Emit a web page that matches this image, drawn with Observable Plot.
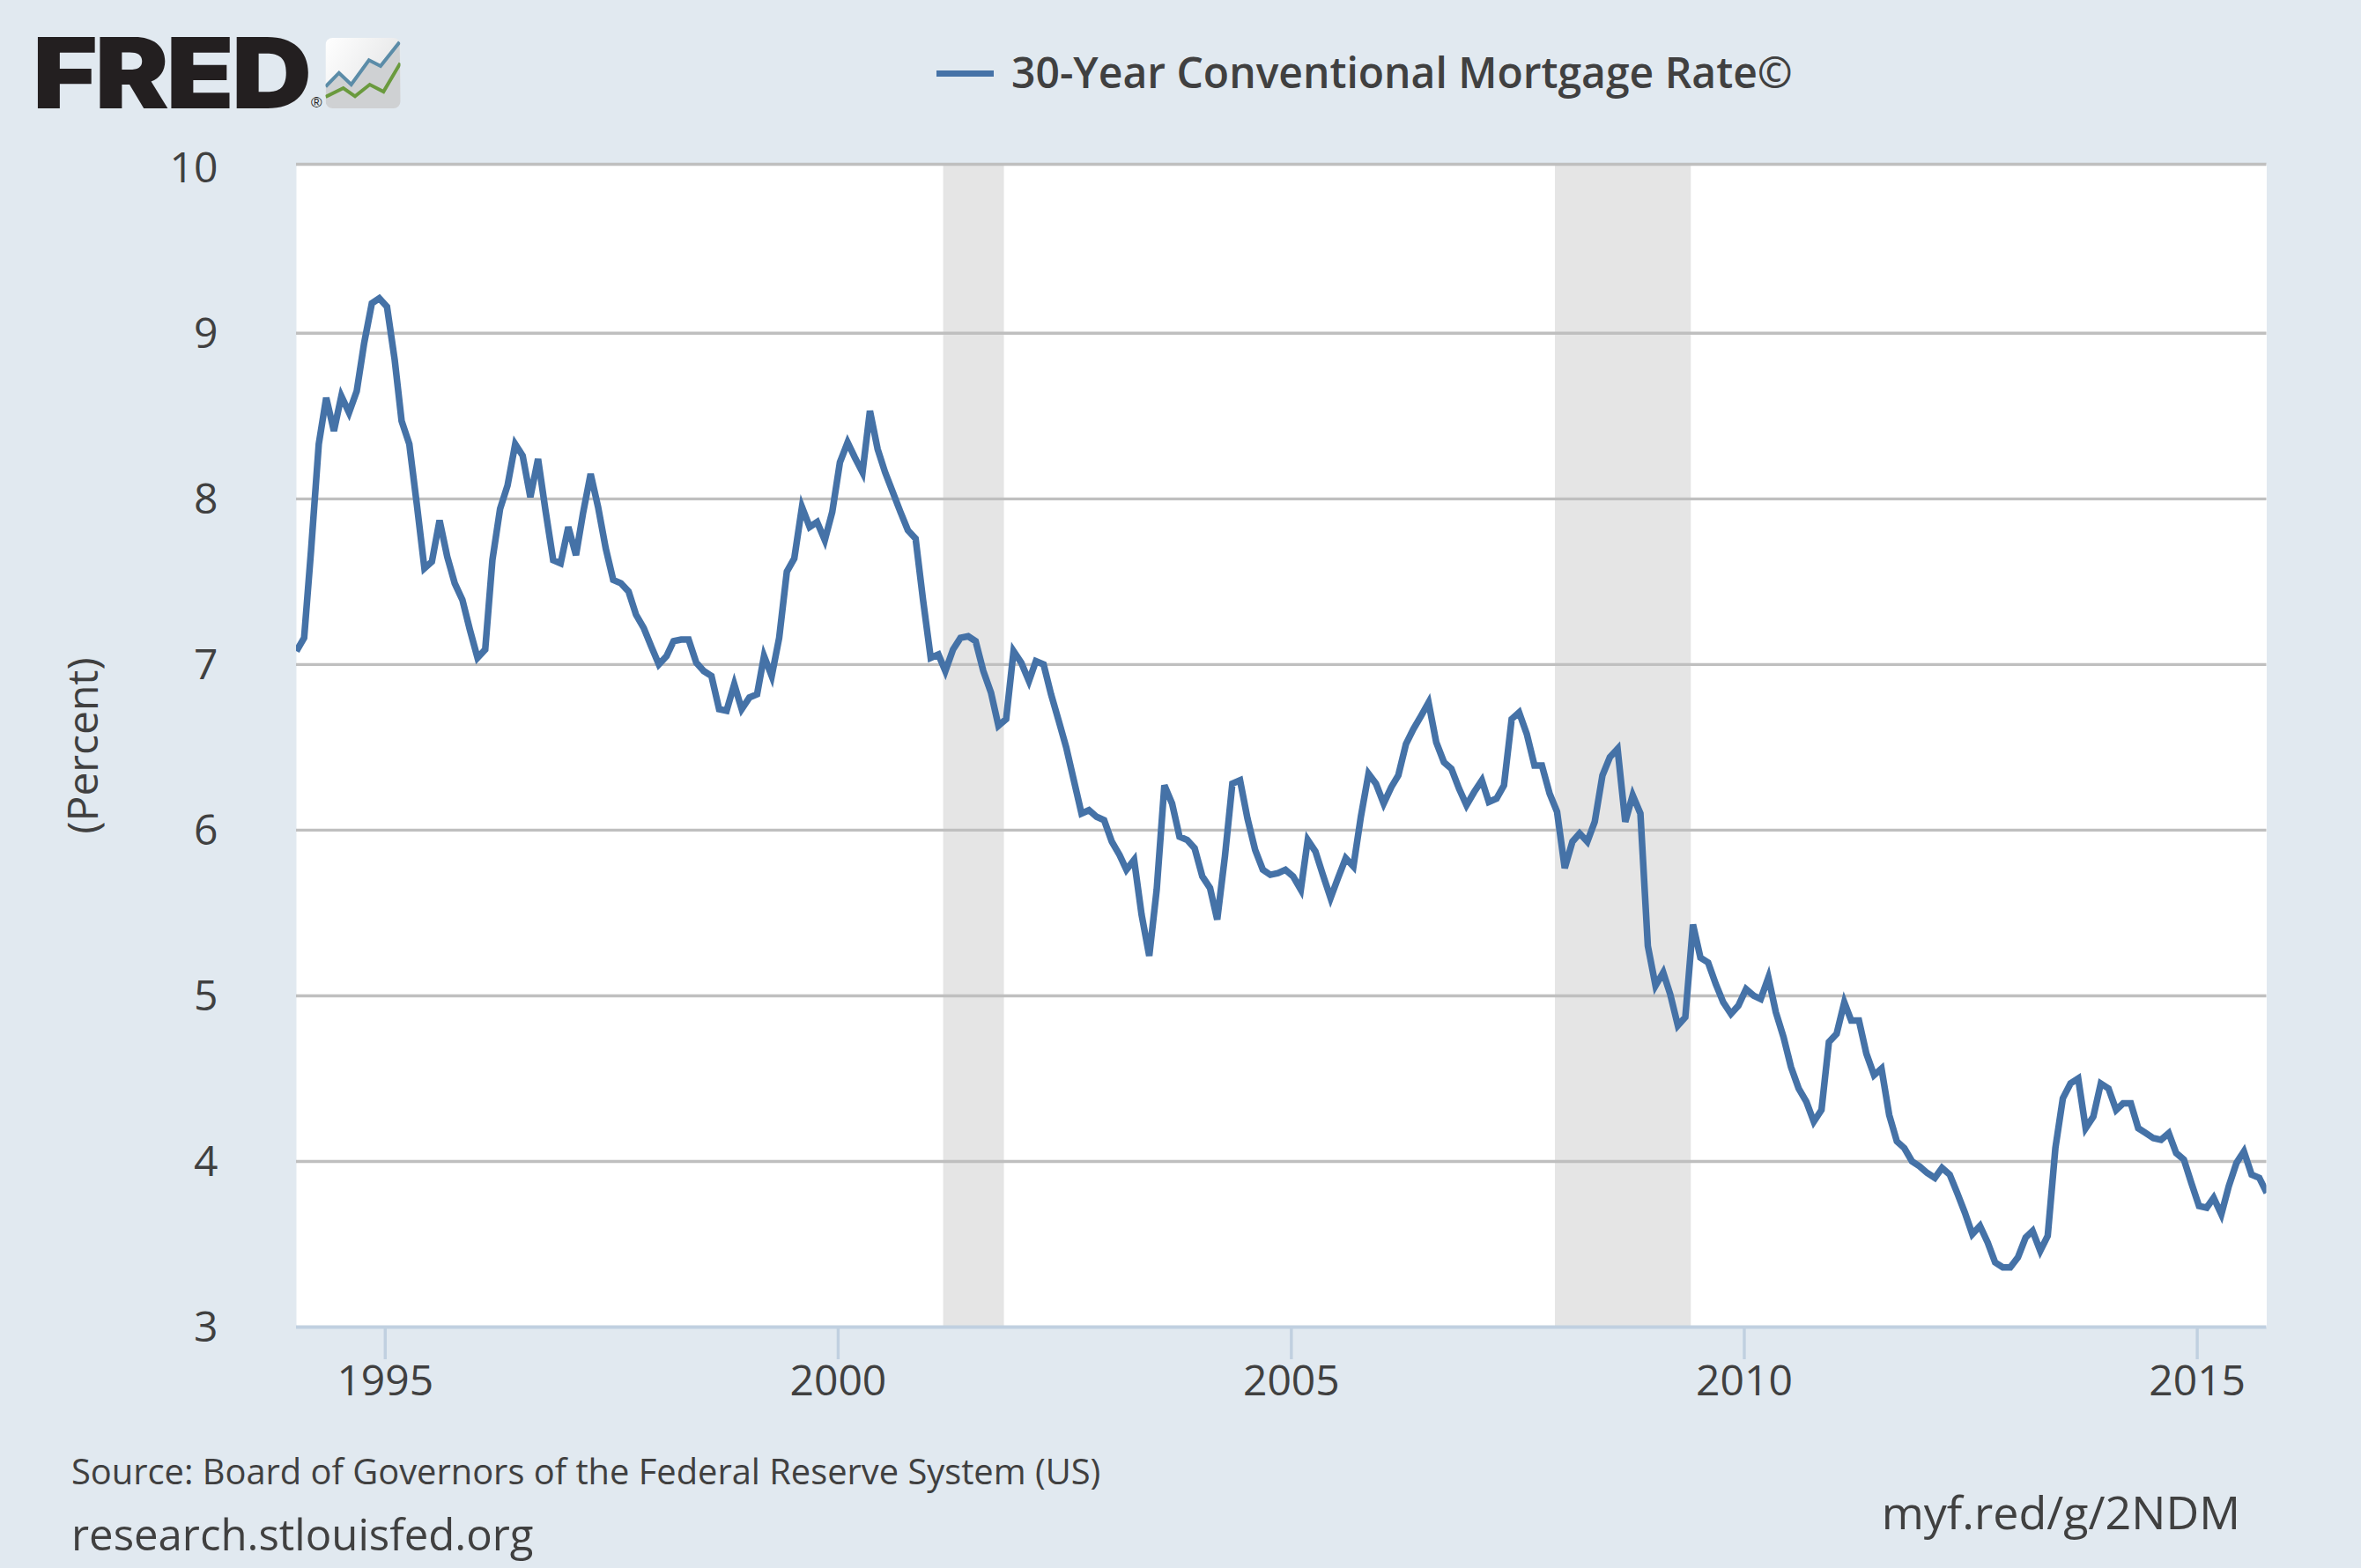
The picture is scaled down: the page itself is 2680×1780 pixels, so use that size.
<!DOCTYPE html>
<html>
<head>
<meta charset="utf-8">
<script src="https://cdn.jsdelivr.net/npm/d3@7"></script>
<script src="https://cdn.jsdelivr.net/npm/@observablehq/plot@0.6"></script>
<style>
  html, body { margin: 0; padding: 0; background: #e1e9f0; }
  #page { position: relative; width: 2680px; height: 1780px; overflow: hidden; background: #e1e9f0; font-family: "Open Sans", sans-serif; color: #404040; }
  #head { height: 140px; }
  #foot { height: 180px; }
  #chart svg { display: block; }
  .abs { position: absolute; white-space: nowrap; line-height: 1; }
</style>
</head>
<body>
<div id="page">
  <div id="head">
    <div class="abs" id="fred" style="left:37px;top:27px;font-family:Inter,sans-serif;font-weight:900;font-size:111px;letter-spacing:-3px;color:#231f20;transform:scaleX(1.14);transform-origin:left center;">FRED</div>
    <div class="abs" style="left:353px;top:108px;font-family:'Liberation Sans',sans-serif;font-size:17px;color:#231f20;">®</div>
    <svg class="abs" style="left:368px;top:43px" width="90" height="82" viewBox="0 0 90 82" aria-hidden="true">
      <defs>
        <linearGradient id="sheen" x1="0" x2="1" y1="0" y2="0.6"><stop offset="0" stop-color="#ffffff"/><stop offset="1" stop-color="#e3e4e5"/></linearGradient>
        <clipPath id="tile"><rect x="1.5" y="0" width="85" height="80" rx="8"/></clipPath>
      </defs>
      <g clip-path="url(#tile)">
        <rect x="1.5" y="0" width="85" height="80" fill="url(#sheen)"/>
        <path d="M1.6 55.3 L16.8 39.7 L30.7 53 L50.8 25.3 L64 32 L85.6 4.7 L87 80 L1.6 80 Z" fill="#cfd1d3"/>
        <path d="M1.6 55.3 L16.8 39.7 L30.7 53 L50.8 25.3 L64 32 L85.6 4.7" fill="none" stroke="#5b8ca8" stroke-width="4"/>
        <path d="M1.6 67 L21.7 57 L35 66.3 L51.7 53 L67.3 61 L86.4 28.7" fill="none" stroke="#6a9a3e" stroke-width="4"/>
      </g>
    </svg>
    <div class="abs" style="left:1063px;top:80px;width:65px;height:7px;background:#4572a7;"></div>
    <div class="abs" id="legend" style="left:1148px;top:58px;font-size:48px;font-weight:600;color:#404040;">30-Year Conventional Mortgage Rate©</div>
  </div>
  <div id="chart"></div>
  <div id="foot">
    <div class="abs" id="src" style="left:81px;top:1650px;font-size:39.85px;">Source: Board of Governors of the Federal Reserve System (US)</div>
    <div class="abs" id="site" style="left:81px;top:1717px;font-size:49.1px;">research.stlouisfed.org</div>
    <div class="abs" id="short" style="right:137px;top:1690px;font-size:52px;">myf.red/g/2NDM</div>
  </div>
</div>
<script>
const startMonth = "1994-01-01";
const rates = [
  7.07,7.15,7.68,8.32,8.60,8.40,8.61,8.51,8.64,8.93,9.17,9.20,
  9.15,8.83,8.46,8.32,7.96,7.57,7.61,7.86,7.64,7.48,7.38,7.20,
  7.03,7.08,7.62,7.93,8.07,8.32,8.25,8.00,8.23,7.92,7.62,7.60,
  7.82,7.65,7.90,8.14,7.94,7.69,7.50,7.48,7.43,7.29,7.21,7.10,
  6.99,7.04,7.13,7.14,7.14,7.00,6.95,6.92,6.72,6.71,6.87,6.72,
  6.79,6.81,7.04,6.92,7.15,7.55,7.63,7.94,7.82,7.85,7.74,7.91,
  8.21,8.33,8.24,8.15,8.52,8.29,8.15,8.03,7.91,7.80,7.75,7.38,
  7.03,7.05,6.95,7.08,7.15,7.16,7.13,6.95,6.82,6.62,6.66,7.07,
  7.00,6.89,7.01,6.99,6.81,6.65,6.49,6.29,6.09,6.11,6.07,6.05,
  5.92,5.84,5.75,5.81,5.48,5.23,5.63,6.26,6.15,5.95,5.93,5.88,
  5.71,5.64,5.45,5.83,6.27,6.29,6.06,5.87,5.75,5.72,5.73,5.75,
  5.71,5.63,5.93,5.86,5.72,5.58,5.70,5.82,5.77,6.07,6.33,6.27,
  6.15,6.25,6.32,6.51,6.60,6.68,6.76,6.52,6.40,6.36,6.24,6.14,
  6.22,6.29,6.16,6.18,6.26,6.66,6.70,6.57,6.38,6.38,6.21,6.10,
  5.76,5.92,5.97,5.92,6.04,6.32,6.43,6.48,6.04,6.20,6.09,5.29,
  5.05,5.13,5.00,4.81,4.86,5.42,5.22,5.19,5.06,4.95,4.88,4.93,
  5.03,4.99,4.97,5.10,4.89,4.74,4.56,4.43,4.35,4.23,4.30,4.71,
  4.76,4.95,4.84,4.84,4.64,4.51,4.55,4.27,4.11,4.07,3.99,3.96,
  3.92,3.89,3.95,3.91,3.80,3.68,3.55,3.60,3.50,3.38,3.35,3.35,
  3.41,3.53,3.57,3.45,3.54,4.07,4.37,4.46,4.49,4.19,4.26,4.46,
  4.43,4.30,4.34,4.34,4.19,4.16,4.13,4.12,4.16,4.04,4.00,3.86,
  3.72,3.71,3.77,3.67,3.84,3.98,4.05,3.91,3.89,3.80
];
const recessionStart = ["2001-03-01", "2007-12-01"];
const recessionEnd   = ["2001-11-01", "2009-06-01"];
const gridValues = [4, 5, 6, 7, 8, 9];
const yTickValues = [3, 4, 5, 6, 7, 8, 9, 10];
const xTickYears = [1995, 2000, 2005, 2010, 2015];

const parse = d3.utcParse("%Y-%m-%d");
const first = parse(startMonth);
const series = rates.map((rate, i) => ({date: d3.utcMonth.offset(first, i), rate}));
const recessions = recessionStart.map((s, i) => ({start: parse(s), end: parse(recessionEnd[i])}));
const tickDates = xTickYears.map(y => new Date(Date.UTC(y, 0, 1)));

const ink = "#404040";
const chart = Plot.plot({
  width: 2680,
  height: 1460,
  marginTop: 46,
  marginBottom: 94,
  marginLeft: 336,
  marginRight: 107.5,
  style: {background: "transparent", fontFamily: "'Open Sans', sans-serif"},
  x: {type: "utc", domain: [first, series[series.length - 1].date]},
  y: {type: "linear", domain: [3, 10.02]},
  marks: [
    Plot.frame({fill: "#ffffff", stroke: "none"}),
    Plot.rectY(recessions, {x1: "start", x2: "end", y1: 3, y2: 10.02, fill: "#e5e5e5", dx: -2}),
    Plot.ruleY(gridValues, {stroke: "#bfbfbf", strokeWidth: 3.4}),
    Plot.ruleY([10.02], {stroke: "#bfbfbf", strokeWidth: 3.4}),
    Plot.ruleY([3], {stroke: "#c0d0e0", strokeWidth: 4}),
    Plot.axisY({
      ticks: yTickValues, tickSize: 0, tickPadding: 89, tickFormat: d => String(d),
      fontSize: 48, color: ink, dy: 1,
      label: "(Percent)", labelAnchor: "center", labelOffset: 260, labelArrow: "none"
    }),
    Plot.axisX({
      ticks: tickDates, tickSize: 37, tickPadding: 6, tickFormat: d3.utcFormat("%Y"),
      fontSize: 48, color: ink, stroke: "#c0d0e0", strokeWidth: 3.4, strokeOpacity: 1, dx: -2, label: null
    }),
    Plot.lineY(series, {
      x: "date", y: "rate", stroke: "#4572a7", strokeWidth: 7.5, dy: -2,
      strokeLinejoin: "miter", strokeLinecap: "butt", strokeMiterlimit: 4, clip: true
    })
  ]
});
document.getElementById("chart").append(chart);
</script>
</body>
</html>
